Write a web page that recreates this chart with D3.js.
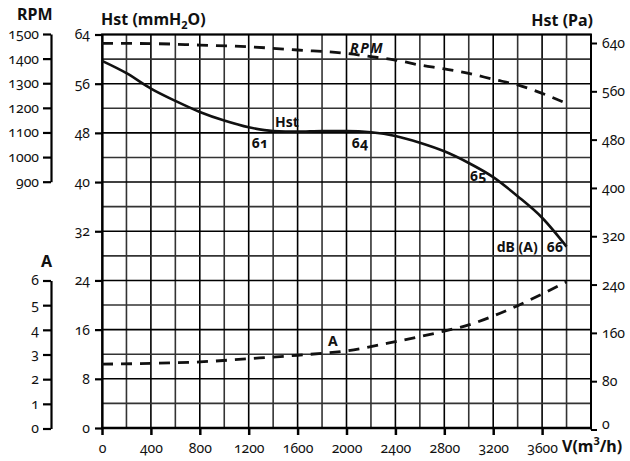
<!DOCTYPE html>
<html>
<head>
<meta charset="utf-8">
<script src="https://cdn.jsdelivr.net/npm/d3@7"></script>
<style>
  body { margin: 0; background: #fff; }
  svg { display: block; }
  .num { font-family: "Noto Sans", sans-serif; font-size: 14px; font-variant-numeric: oldstyle-nums; fill: #111; }
  .title { font-family: "Noto Sans", sans-serif; font-weight: bold; font-size: 16px; fill: #111; }
  .note { font-family: "Noto Sans", sans-serif; font-weight: bold; font-size: 14px; font-variant-numeric: oldstyle-nums; fill: #111; }
</style>
</head>
<body>
<svg id="chart" width="630" height="461"></svg>
<script>
// Fan performance curve: static pressure, speed and current versus air flow.

// Air flow (m³/h) sample points
const flow = [0, 200, 400, 600, 800, 1000, 1200, 1400, 1600, 1800, 2000,
              2200, 2400, 2600, 2800, 3000, 3200, 3400, 3600, 3800];
// Static pressure (mmH2O)
const hstMm = [59.7, 57.7, 55.2, 53.2, 51.4, 50.0, 48.9, 48.3, 48.2, 48.3, 48.3,
               48.1, 47.5, 46.4, 45.0, 43.1, 40.8, 37.7, 34.2, 29.5];

// Fan speed (RPM)
const rpmFlow = [0, 400, 800, 1200, 1600, 2000, 2200, 2400, 2600, 2800, 3000, 3200, 3400, 3600, 3800];
const rpmValues = [1462, 1461, 1455, 1448, 1435, 1421, 1408, 1394, 1374, 1358, 1340, 1316, 1293, 1259, 1218];

// Current draw (A)
const ampFlow = [0, 400, 800, 1200, 1600, 2000, 2400, 2800, 3000, 3200, 3400, 3600, 3800];
const ampValues = [2.61, 2.64, 2.70, 2.83, 2.97, 3.15, 3.52, 3.95, 4.20, 4.56, 4.98, 5.45, 5.95];

// Sound level annotations along the pressure curve, dB(A)
const noiseFlow = [1225, 2043, 3010, 3638];
const noiseHst = [45.5, 45.5, 40.2, 28.7];
const noiseLevels = ["61", "64", "65", "66"];

// Tick values
const flowTicks = [0, 400, 800, 1200, 1600, 2000, 2400, 2800, 3200, 3600];
const hstMmTicks = [0, 8, 16, 24, 32, 40, 48, 56, 64];
const hstPaTicks = [0, 80, 160, 240, 320, 400, 480, 560, 640];
const rpmTicks = [900, 1000, 1100, 1200, 1300, 1400, 1500];
const ampTicks = [0, 1, 2, 3, 4, 5, 6];

const svg = d3.select("#chart");
const fmt = d3.format("d");

const x = d3.scaleLinear().domain([0, 4000]).range([102, 591]);
const yMm = d3.scaleLinear().domain([0, 64]).range([428, 34.5]);
const yPa = d3.scaleLinear().domain([0, 640]).range([429.5, 43]);
const yRpm = d3.scaleLinear().domain([900, 1500]).range([181.7, 34]);
const yAmp = d3.scaleLinear().domain([0, 6]).range([428.5, 280.5]);

// Grid
const grid = svg.append("g");
grid.selectAll("line.v")
  .data(d3.range(0, 4001, 200))
  .join("line")
  .attr("x1", d => x(d)).attr("x2", d => x(d))
  .attr("y1", yMm(64)).attr("y2", yMm(0))
  .attr("stroke", d => d % 400 === 0 ? "#000" : "#333")
  .attr("stroke-width", 1.6);
grid.selectAll("line.h")
  .data(d3.range(0, 65, 4))
  .join("line")
  .attr("x1", x(0)).attr("x2", x(4000))
  .attr("y1", d => yMm(d)).attr("y2", d => yMm(d))
  .attr("stroke", d => d % 8 === 0 ? "#000" : "#333")
  .attr("stroke-width", 1.6);

// Frame
svg.append("line").attr("x1", x(0) - 1).attr("x2", x(4000) + 1)
  .attr("y1", yMm(64)).attr("y2", yMm(64)).attr("stroke", "#000").attr("stroke-width", 2.2);

function styleAxis(g, width) {
  g.selectAll("path.domain").attr("stroke", "#000").attr("stroke-width", width);
  g.selectAll(".tick line").attr("stroke", "#000").attr("stroke-width", width);
  g.selectAll(".tick text").attr("class", "num").attr("font-family", null).attr("font-size", null).attr("fill", null);
}

// Flow axis
const gx = svg.append("g").attr("transform", `translate(0,${yMm(0)})`)
  .call(d3.axisBottom(x).tickValues(flowTicks).tickFormat(fmt).tickSize(7).tickSizeOuter(0).tickPadding(8));
styleAxis(gx, 2.5);
gx.select("path.domain").attr("d", `M${x(0) - 1},0H${x(4000) + 1}`);

// Left pressure axis (mmH2O)
const gy = svg.append("g").attr("transform", `translate(${x(0)},0)`)
  .call(d3.axisLeft(yMm).tickValues(hstMmTicks).tickFormat(fmt).tickSize(7).tickSizeOuter(0).tickPadding(5));
styleAxis(gy, 2.2);

// Right pressure axis (Pa)
const gp = svg.append("g").attr("transform", `translate(${x(4000)},0)`)
  .call(d3.axisRight(yPa).tickValues(hstPaTicks).tickFormat(fmt).tickSize(6).tickSizeOuter(0).tickPadding(5));
styleAxis(gp, 2);
gp.select("path.domain").attr("d", `M0,${yMm(64)}V${yPa(0)}`);
// the zero label sits just above its tick, clear of the flow unit
gp.selectAll(".tick text").filter(d => d === 0).attr("y", -5);

// RPM axis
const gr = svg.append("g").attr("transform", "translate(51,0)")
  .call(d3.axisLeft(yRpm).tickValues(rpmTicks).tickFormat(fmt).tickSize(8).tickSizeOuter(0).tickPadding(4));
styleAxis(gr, 2.2);

// Current axis
const ga = svg.append("g").attr("transform", "translate(51,0)")
  .call(d3.axisLeft(yAmp).tickValues(ampTicks).tickFormat(fmt).tickSize(8).tickSizeOuter(0).tickPadding(4));
styleAxis(ga, 2.2);

// Curves
const hstLine = d3.line().x((d, i) => x(flow[i])).y(d => yMm(d)).curve(d3.curveMonotoneX);
svg.append("path").attr("d", hstLine(hstMm))
  .attr("fill", "none").attr("stroke", "#111").attr("stroke-width", 2.6);

const rpmLine = d3.line().x((d, i) => x(rpmFlow[i])).y(d => yRpm(d)).curve(d3.curveMonotoneX);
svg.append("path").attr("d", rpmLine(rpmValues))
  .attr("fill", "none").attr("stroke", "#111").attr("stroke-width", 2.8)
  .attr("stroke-dasharray", "11,8");

const ampLine = d3.line().x((d, i) => x(ampFlow[i])).y(d => yAmp(d)).curve(d3.curveMonotoneX);
svg.append("path").attr("d", ampLine(ampValues))
  .attr("fill", "none").attr("stroke", "#111").attr("stroke-width", 2.8)
  .attr("stroke-dasharray", "11,8");

// Curve labels
svg.append("text").attr("class", "note").attr("x", x(1415)).attr("y", yMm(49.0)).text("Hst");
svg.append("text").attr("class", "note").attr("x", x(2029)).attr("y", yMm(61.0))
  .attr("font-style", "italic").attr("letter-spacing", "1.5px").text("RPM");
svg.append("text").attr("class", "note").attr("x", x(1849)).attr("y", yMm(13.3)).text("A");
svg.append("text").attr("class", "note").attr("x", x(3229)).attr("y", yMm(28.7)).text("dB (A)");
svg.selectAll("text.noise")
  .data(noiseLevels)
  .join("text")
  .attr("class", "note noise")
  .attr("x", (d, i) => x(noiseFlow[i]))
  .attr("y", (d, i) => yMm(noiseHst[i]))
  .text(d => d);

// Axis titles
svg.append("text").attr("class", "title").attr("x", 17).attr("y", 20).text("RPM");
const t1 = svg.append("text").attr("class", "title").attr("x", 101).attr("y", 25);
t1.append("tspan").text("Hst (mmH");
t1.append("tspan").attr("font-size", "11px").attr("dy", 4).text("2");
t1.append("tspan").attr("dy", -4).text("O)");
svg.append("text").attr("class", "title").attr("x", 593).attr("y", 26)
  .attr("text-anchor", "end").text("Hst (Pa)");
svg.append("text").attr("class", "title").attr("x", 41).attr("y", 267).text("A");
const t2 = svg.append("text").attr("class", "title").attr("x", 562).attr("y", 452)
  .attr("font-size", "17px");
t2.append("tspan").text("V(m");
t2.append("tspan").attr("font-size", "11px").attr("dy", -7).text("3");
t2.append("tspan").attr("dy", 7).text("/h)");
</script>
</body>
</html>
